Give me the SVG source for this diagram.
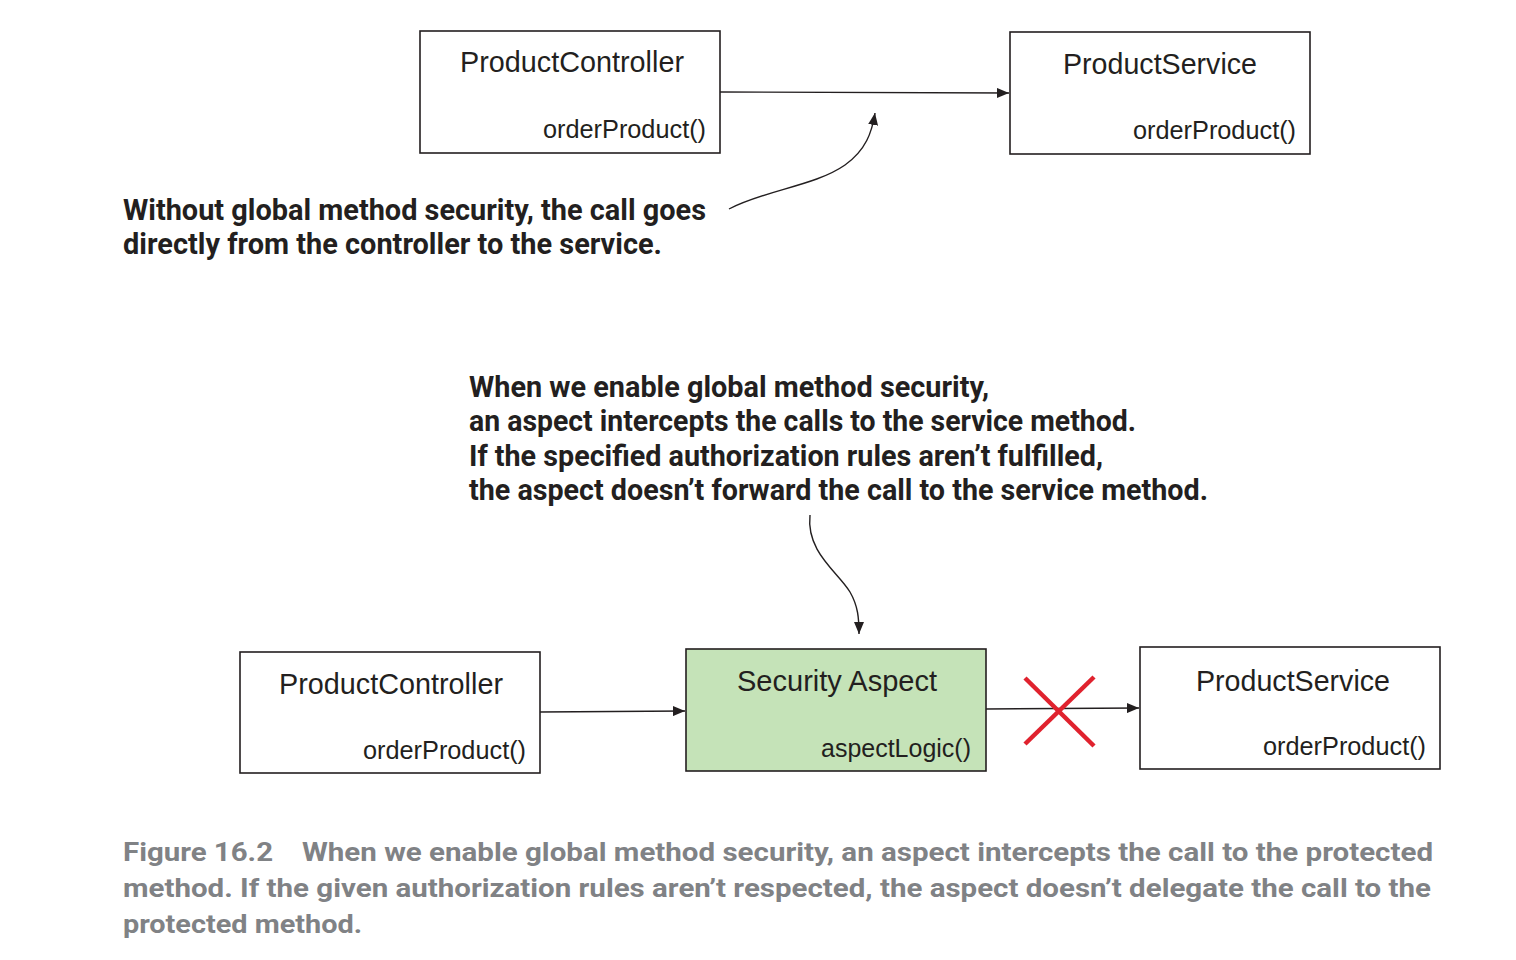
<svg xmlns="http://www.w3.org/2000/svg" width="1516" height="960" viewBox="0 0 1516 960">
<defs>
<marker id="ah" viewBox="0 0 12 10" refX="12" refY="5" markerWidth="12" markerHeight="10" markerUnits="userSpaceOnUse" orient="auto">
<path d="M0,0 L12,5 L0,10 z" fill="#231f20"/>
</marker>
</defs>
<style>
.box{fill:#fff;stroke:#231f20;stroke-width:1.6}
.green{fill:#c5e3b8}
.t{font-family:"Liberation Sans",Arial,sans-serif;fill:#231f20}
.title{font-size:29px;text-anchor:middle}
.meth{font-size:25px;text-anchor:end}
.note{font-family:"Liberation Sans Narrow","Roboto","Liberation Sans",sans-serif;font-weight:bold;font-size:29px;fill:#231f20}
.cap{font-family:"Liberation Sans Narrow","Roboto","Liberation Sans",sans-serif;font-weight:bold;font-size:26px;fill:#808285}
.conn{fill:none;stroke:#231f20;stroke-width:1.4}
</style>
<rect width="1516" height="960" fill="#fff"/>
<g id="connectors">
<line class="conn" x1="720" y1="92" x2="1009" y2="93" marker-end="url(#ah)"/>
<path class="conn" d="M729,209 C765,190 815,186 845,165 C866,150 872,132 875,113" marker-end="url(#ah)"/>
<path class="conn" d="M810,515 C806,552 838,572 850,592 C858,606 859,618 859,634" marker-end="url(#ah)"/>
<line class="conn" x1="540" y1="712" x2="685" y2="711" marker-end="url(#ah)"/>
<line class="conn" x1="986" y1="709" x2="1139" y2="708" marker-end="url(#ah)"/>
</g>
<g id="top-controller">
<rect class="box" x="420" y="31" width="300" height="122"/>
<text class="t title" x="572" y="72" textLength="224" lengthAdjust="spacingAndGlyphs">ProductController</text>
<text class="t meth" x="706" y="138" textLength="163" lengthAdjust="spacingAndGlyphs">orderProduct()</text>
</g>
<g id="top-service">
<rect class="box" x="1010" y="32" width="300" height="122"/>
<text class="t title" x="1160" y="74" textLength="194" lengthAdjust="spacingAndGlyphs">ProductService</text>
<text class="t meth" x="1296" y="139" textLength="163" lengthAdjust="spacingAndGlyphs">orderProduct()</text>
</g>
<g id="note-top">
<text class="note" x="123" y="220" textLength="583" lengthAdjust="spacingAndGlyphs">Without global method security, the call goes</text>
<text class="note" x="123" y="254" textLength="539" lengthAdjust="spacingAndGlyphs">directly from the controller to the service.</text>
</g>
<g id="note-middle">
<text class="note" x="469" y="397" textLength="520" lengthAdjust="spacingAndGlyphs">When we enable global method security,</text>
<text class="note" x="469" y="431" textLength="667" lengthAdjust="spacingAndGlyphs">an aspect intercepts the calls to the service method.</text>
<text class="note" x="469" y="466" textLength="634" lengthAdjust="spacingAndGlyphs">If the specified authorization rules aren’t fulfilled,</text>
<text class="note" x="469" y="500" textLength="739" lengthAdjust="spacingAndGlyphs">the aspect doesn’t forward the call to the service method.</text>
</g>
<g id="bottom-controller">
<rect class="box" x="240" y="652" width="300" height="121"/>
<text class="t title" x="391" y="694" textLength="224" lengthAdjust="spacingAndGlyphs">ProductController</text>
<text class="t meth" x="526" y="759" textLength="163" lengthAdjust="spacingAndGlyphs">orderProduct()</text>
</g>
<g id="security-aspect">
<rect class="box green" x="686" y="649" width="300" height="122"/>
<text class="t title" x="837" y="691" textLength="200" lengthAdjust="spacingAndGlyphs">Security Aspect</text>
<text class="t meth" x="971" y="757" textLength="150" lengthAdjust="spacingAndGlyphs">aspectLogic()</text>
</g>
<g id="bottom-service">
<rect class="box" x="1140" y="647" width="300" height="122"/>
<text class="t title" x="1293" y="691" textLength="194" lengthAdjust="spacingAndGlyphs">ProductService</text>
<text class="t meth" x="1426" y="755" textLength="163" lengthAdjust="spacingAndGlyphs">orderProduct()</text>
</g>
<g id="blocked">
<line x1="1025" y1="678" x2="1094" y2="746" stroke="#e0222e" stroke-width="4.5"/>
<line x1="1094" y1="677" x2="1025" y2="744" stroke="#e0222e" stroke-width="4.5"/>
</g>
<g id="caption">
<text class="cap" x="123" y="861" textLength="150" lengthAdjust="spacingAndGlyphs">Figure 16.2</text>
<text class="cap" x="302" y="861" textLength="1131" lengthAdjust="spacingAndGlyphs">When we enable global method security, an aspect intercepts the call to the protected</text>
<text class="cap" x="123" y="897" textLength="1308" lengthAdjust="spacingAndGlyphs">method. If the given authorization rules aren’t respected, the aspect doesn’t delegate the call to the</text>
<text class="cap" x="123" y="933" textLength="239" lengthAdjust="spacingAndGlyphs">protected method.</text>
</g>
</svg>
